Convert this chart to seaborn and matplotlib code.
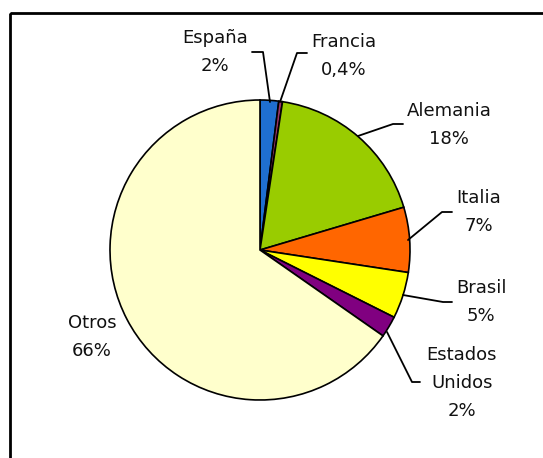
import numpy as np
import matplotlib
matplotlib.use("Agg")
import matplotlib.pyplot as plt
import seaborn as sns
from matplotlib.patches import Rectangle

# data
paises = ["España", "Francia", "Alemania", "Italia", "Brasil", "Estados\nUnidos", "Otros"]
cuota = [2.0, 0.4, 18.0, 7.0, 5.0, 2.3, 65.3]
etiquetas = ["2%", "0,4%", "18%", "7%", "5%", "2%", "66%"]
colores = ["#1F6FD0", "#993366", "#99CC00", "#FF6600", "#FFFF00", "#800080", "#FFFFCC"]

# label positions and leader lines (pixel coords of the picture)
pos_texto = [(215, 52), (344, 56), (449, 125), (479, 212), (481, 302), (462, 383), (92, 337)]
guias = [
    [(270, 102), (263, 52), (252, 52)],
    [(280, 102), (297, 53), (307, 53)],
    [(358, 136), (393, 124), (403, 124)],
    [(408, 240), (442, 212), (452, 212)],
    [(403, 295), (443, 302), (452, 302)],
    [(387, 332), (412, 382), (420, 382)],
    None,
]

sns.set_theme(style="white")
plt.rcParams['font.family'] = ['DejaVu Sans']

fig = plt.figure(figsize=(5.43, 4.58), dpi=100)
ax = fig.add_axes([0, 0, 1, 1])

ax.pie(cuota, colors=colores, center=(260, 250), radius=150,
       startangle=-90, counterclock=True,
       wedgeprops=dict(edgecolor="black", linewidth=1.2))

ax.set_xlim(0, 543)
ax.set_ylim(458, 0)
ax.set_aspect("equal")
ax.axis("off")

ax.add_patch(Rectangle((10, 13), 560, 480, fill=False, edgecolor="black",
                       linewidth=2, clip_on=True))

for nombre, et, (x, y), g in zip(paises, etiquetas, pos_texto, guias):
    ax.text(x, y, nombre + "\n" + et, ha="center", va="center",
            fontsize=13, linespacing=1.75, color="#111111")
    if g is not None:
        xs, ys = zip(*g)
        ax.plot(xs, ys, color="black", linewidth=1.3)

fig.savefig("out.png", dpi=100)
